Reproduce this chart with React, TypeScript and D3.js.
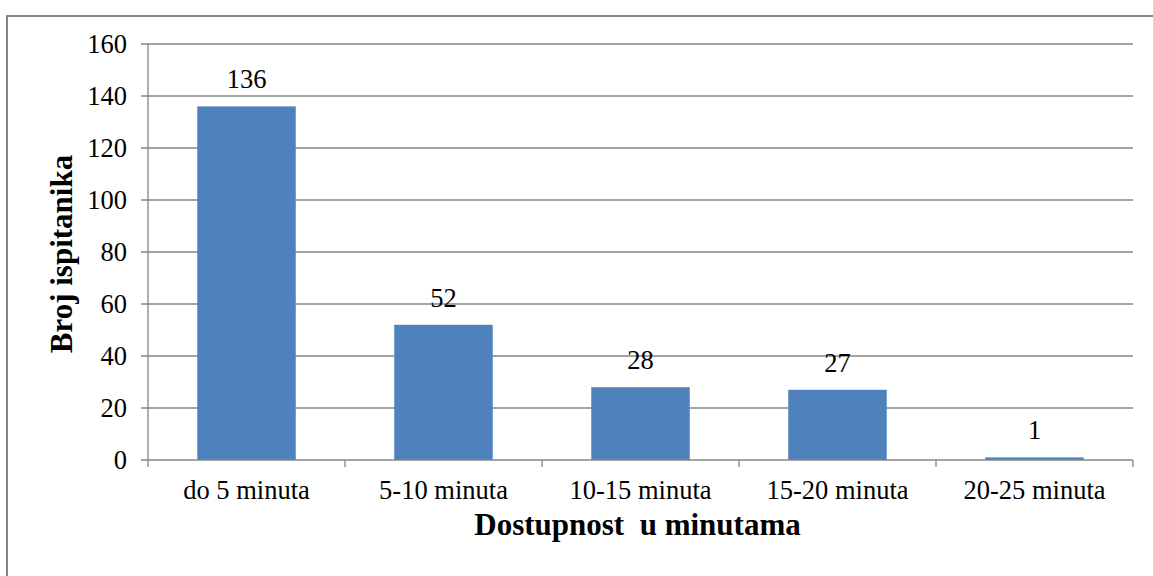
import React from "react";
import * as d3 from "d3";

const categories = ["do 5 minuta", "5-10 minuta", "10-15 minuta", "15-20 minuta", "20-25 minuta"];
const values = [136, 52, 28, 27, 1];
const yTicks = [0, 20, 40, 60, 80, 100, 120, 140, 160];
const yTitle = "Broj ispitanika";
const xTitle = "Dostupnost\u00a0 u minutama";

const W = 1153;
const H = 576;
const left = 148;
const right = 1133;
const top = 44;
const bottom = 460;
const font = "Liberation Serif";
const gridColor = "#868686";

export default function App() {
  const x = d3.scaleBand<string>().domain(categories).range([left, right]).paddingInner(0.5).paddingOuter(0.25);
  const band = d3.scaleBand<string>().domain(categories).range([left, right]);
  const y = d3.scaleLinear().domain([0, 160]).range([bottom, top]);

  return (
    <svg width={W} height={H} style={{ position: "absolute", left: 0, top: 0 }}>
      <rect x={0} y={0} width={W} height={H} fill="#fff" />
      <rect x={7} y={16} width={W + 10} height={H + 10} fill="none" stroke={gridColor} strokeWidth={2} />
      {yTicks.map((t) => (
        <g key={t}>
          {t > 0 && (
            <line x1={left - 7} x2={right} y1={y(t)} y2={y(t)} stroke={gridColor} strokeWidth={1.3} />
          )}
          <text x={left - 21} y={y(t)} dy="0.34em" textAnchor="end" fontFamily={font} fontSize={26.5} fill="#000">
            {t}
          </text>
        </g>
      ))}
      {categories.map((c, i) => (
        <rect key={c} x={x(c)} y={y(values[i])} width={x.bandwidth()} height={bottom - y(values[i])} fill="#4F81BD" />
      ))}
      <line x1={left} x2={left} y1={top} y2={bottom} stroke={gridColor} strokeWidth={1.3} />
      <line x1={left - 7} x2={right} y1={bottom} y2={bottom} stroke={gridColor} strokeWidth={1.3} />
      {[...categories.map((c) => band(c) as number), right].map((bx, i) => (
        <line key={i} x1={bx} x2={bx} y1={bottom} y2={bottom + 7} stroke={gridColor} strokeWidth={1.3} />
      ))}
      {categories.map((c, i) => (
        <text key={c} x={(x(c) as number) + x.bandwidth() / 2} y={y(values[i]) - 18} textAnchor="middle" fontFamily={font} fontSize={26.5} fill="#000">
          {values[i]}
        </text>
      ))}
      {categories.map((c) => (
        <text key={c} x={(band(c) as number) + band.bandwidth() / 2} y={499} textAnchor="middle" fontFamily={font} fontSize={26.5} fill="#000">
          {c}
        </text>
      ))}
      <text x={(left + right) / 2 - 3} y={535} textAnchor="middle" fontFamily={font} fontSize={31} fontWeight="bold" fill="#000">
        {xTitle}
      </text>
      <text transform={`translate(72, ${(top + bottom) / 2 + 2}) rotate(-90)`} textAnchor="middle" fontFamily={font} fontSize={31} fontWeight="bold" fill="#000">
        {yTitle}
      </text>
    </svg>
  );
}
